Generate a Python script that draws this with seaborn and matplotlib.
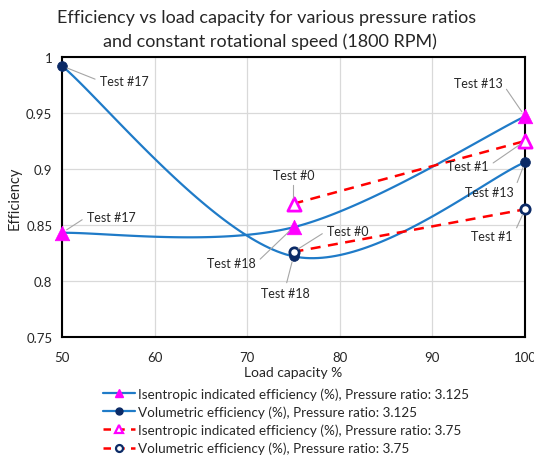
import numpy as np
import pandas as pd
import matplotlib
matplotlib.use("Agg")
import matplotlib.pyplot as plt
import seaborn as sns
from matplotlib.lines import Line2D

# ---- data ----
load = [50, 75, 100]
isen_3125 = [0.843, 0.848, 0.947]
vol_3125 = [0.992, 0.822, 0.906]
load_375 = [75, 100]
isen_375 = [0.869, 0.925]
vol_375 = [0.826, 0.864]
tests_3125 = ["Test #17", "Test #18", "Test #13"]
tests_375 = ["Test #0", "Test #1"]
series_names = [
    "Isentropic indicated efficiency (%), Pressure ratio: 3.125",
    "Volumetric efficiency (%), Pressure ratio: 3.125",
    "Isentropic indicated efficiency (%), Pressure ratio: 3.75",
    "Volumetric efficiency (%), Pressure ratio: 3.75",
]
xticks = [50, 60, 70, 80, 90, 100]
yticks = [0.75, 0.8, 0.85, 0.9, 0.95, 1.0]
ytick_labels = ["0.75", "0.8", "0.85", "0.9", "0.95", "1"]

BLUE = "#1f7bc8"
MAG = "#ff00ff"
NAVY = "#0b2a66"
RED = "#ff0000"
FONT = ["Lato", "DejaVu Sans"]


def smooth(xs, ys, n=60):
    """Spreadsheet-style smoothed line (Catmull-Rom Bezier) through the points."""
    P = np.column_stack([xs, ys]).astype(float)
    out = []
    for i in range(len(P) - 1):
        p0 = P[i - 1] if i > 0 else P[i]
        p1, p2 = P[i], P[i + 1]
        p3 = P[i + 2] if i + 2 < len(P) else P[i + 1]
        c1 = p1 + (p2 - p0) / 6.0
        c2 = p2 - (p3 - p1) / 6.0
        t = np.linspace(0, 1, n)[:, None]
        seg = ((1 - t) ** 3) * p1 + 3 * ((1 - t) ** 2) * t * c1 + 3 * (1 - t) * t ** 2 * c2 + t ** 3 * p2
        out.append(seg if i == 0 else seg[1:])
    s = np.vstack(out)
    return pd.DataFrame({"x": s[:, 0], "y": s[:, 1]})


sns.set_theme(style="white")
plt.rcParams["font.family"] = FONT

fig = plt.figure(figsize=(5.34, 4.64), dpi=100)
ax = fig.add_axes([62 / 534, 1 - 338 / 464, 463 / 534, 280 / 464])

# smoothed solid curves
c1 = smooth(load, isen_3125)
c2 = smooth(load, vol_3125)
sns.lineplot(data=c1, x="x", y="y", sort=False, color=BLUE, lw=1.6, ax=ax, zorder=3)
sns.lineplot(data=c2, x="x", y="y", sort=False, color=BLUE, lw=1.6, ax=ax, zorder=3)

# dashed lines
d375 = pd.DataFrame({"load": load_375, "isen": isen_375, "vol": vol_375})
sns.lineplot(data=d375, x="load", y="isen", color=RED, lw=1.8, ax=ax, zorder=3,
             linestyle=(0, (4, 3)))
sns.lineplot(data=d375, x="load", y="vol", color=RED, lw=1.8, ax=ax, zorder=3,
             linestyle=(0, (4, 3)))

# markers
d3125 = pd.DataFrame({"load": load, "isen": isen_3125, "vol": vol_3125})
sns.scatterplot(data=d3125, x="load", y="isen", marker="^", s=110, color=MAG,
                edgecolor=MAG, linewidth=0.5, ax=ax, zorder=5, clip_on=False)
sns.scatterplot(data=d3125, x="load", y="vol", marker="o", s=50, color=NAVY,
                edgecolor=NAVY, linewidth=0.5, ax=ax, zorder=5, clip_on=False)
sns.scatterplot(data=d375, x="load", y="isen", marker="^", s=90, color="white",
                edgecolor=MAG, linewidth=2.0, ax=ax, zorder=5, clip_on=False)
sns.scatterplot(data=d375, x="load", y="vol", marker="o", s=45, color="white",
                edgecolor=NAVY, linewidth=2.0, ax=ax, zorder=6, clip_on=False)

# data labels (offsets in pixels)
off_isen_3125 = [(49, 16), (-62, -36), (-47, 33)]
off_vol_3125 = [(62, -15), (-8, -37), (-36, -30)]
off_isen_375 = [(0, 29), (-57, -25)]
off_vol_375 = [(54, 21), (-33, -27)]


def rel(dx, dy):
    if abs(dx) < 15:
        return (0.5, 0.0) if dy > 0 else (0.5, 1.0)
    return (0.0, 0.5) if dx > 0 else (1.0, 0.5)


def label(x, y, txt, off):
    ax.annotate(txt, (x, y), xytext=off, textcoords="offset pixels",
                ha="center", va="center", fontsize=9, color="#262626",
                arrowprops=dict(arrowstyle="-", color="#a6a6a6", lw=0.8,
                                relpos=rel(*off), shrinkA=1, shrinkB=4),
                zorder=7, annotation_clip=False)


for x, y, t, o in zip(load, isen_3125, tests_3125, off_isen_3125):
    label(x, y, t, o)
for x, y, t, o in zip(load, vol_3125, tests_3125, off_vol_3125):
    label(x, y, t, o)
for x, y, t, o in zip(load_375, isen_375, tests_375, off_isen_375):
    label(x, y, t, o)
for x, y, t, o in zip(load_375, vol_375, tests_375, off_vol_375):
    label(x, y, t, o)

ax.set_xlim(50, 100)
ax.set_ylim(0.75, 1.0)
ax.set_xticks(xticks)
ax.set_yticks(yticks)
ax.set_yticklabels(ytick_labels)
ax.tick_params(labelsize=9.5, colors="#262626", length=0)
ax.tick_params(axis="x", pad=10)
ax.tick_params(axis="y", pad=7)
ax.grid(True, color="#d9d9d9", lw=0.9)
ax.set_axisbelow(True)
for sp in ax.spines.values():
    sp.set_color("black")
    sp.set_linewidth(1.5)
    sp.set_visible(True)

ax.set_xlabel("Load capacity %", fontsize=10, color="#262626", labelpad=2)
ax.set_ylabel("Efficiency", fontsize=10.5, color="#262626", labelpad=3)

fig.text(0.5, 1 - 18 / 464, "Efficiency vs load capacity for various pressure ratios",
         ha="center", va="center", fontsize=13, color="#262626")
fig.text(0.505, 1 - 42 / 464, "and constant rotational speed (1800 RPM)",
         ha="center", va="center", fontsize=13, color="#262626")

handles = [
    Line2D([], [], color=BLUE, lw=1.6, marker="^", markersize=5.5, mfc=MAG, mec=MAG),
    Line2D([], [], color=BLUE, lw=1.6, marker="o", markersize=5, mfc=NAVY, mec=NAVY),
    Line2D([], [], color=RED, lw=1.8, ls=(0, (3, 2.5)), marker="^", markersize=5.5,
           mfc="white", mec=MAG, mew=1.6),
    Line2D([], [], color=RED, lw=1.8, ls=(0, (3, 2.5)), marker="o", markersize=5,
           mfc="white", mec=NAVY, mew=1.6),
]
leg = fig.legend(handles, series_names, loc="upper left",
                 bbox_to_anchor=(103 / 534, 1 - 388 / 464), frameon=False,
                 fontsize=9.75, handlelength=2.35, handletextpad=0.2,
                 labelspacing=0.42, borderpad=0, borderaxespad=0)
for t in leg.get_texts():
    t.set_color("#262626")

fig.savefig("out.png", dpi=100)
